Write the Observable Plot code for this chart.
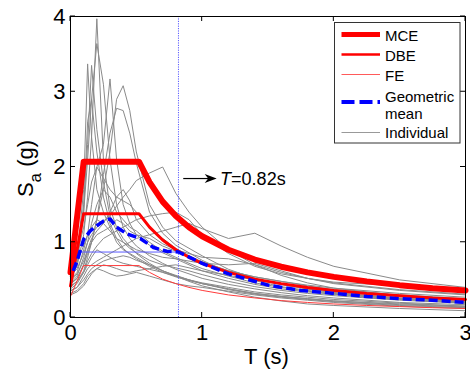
<!DOCTYPE html>
<html><head><meta charset="utf-8">
<script src="https://cdn.jsdelivr.net/npm/d3@7"></script>
<script src="https://cdn.jsdelivr.net/npm/@observablehq/plot@0.6"></script>
<style>
html,body{margin:0;padding:0;background:#fff;overflow:hidden;}
svg{display:block;}
</style></head><body><div id="chart"></div>
<script>
// Periods (s) shared by the individual record spectra
const periods = [0, 0.05, 0.1, 0.13, 0.16, 0.2, 0.25, 0.3, 0.35, 0.4, 0.45, 0.5, 0.6, 0.7, 0.8, 0.9, 1.0, 1.2, 1.4, 1.6, 1.8, 2.0, 2.5, 3.0];
// Individual record spectra Sa (g)
const records = [
  [0.55,0.68,1.10,1.60,2.40,3.97,2.10,1.45,1.20,1.05,0.95,0.85,0.72,0.62,0.55,0.50,0.45,0.38,0.32,0.28,0.25,0.22,0.17,0.14],
  [0.62,0.80,1.40,2.10,2.90,3.64,3.10,2.10,1.50,1.20,1.05,0.95,0.82,0.72,0.64,0.58,0.52,0.44,0.38,0.33,0.29,0.26,0.20,0.17],
  [0.58,0.78,1.70,3.37,2.40,1.70,1.40,1.20,1.00,0.90,0.85,0.80,0.70,0.62,0.56,0.50,0.46,0.40,0.34,0.30,0.27,0.24,0.19,0.15],
  [0.64,0.82,1.50,2.30,3.35,2.50,1.80,1.35,1.15,1.00,0.92,0.86,0.76,0.70,0.66,0.62,0.57,0.48,0.41,0.36,0.32,0.29,0.23,0.19],
  [0.50,0.60,0.90,1.10,1.50,2.00,2.30,3.17,2.10,1.50,1.25,1.10,0.96,0.86,0.78,0.70,0.62,0.52,0.44,0.38,0.34,0.31,0.25,0.21],
  [0.45,0.52,0.70,0.85,1.00,1.30,1.70,2.20,2.90,3.08,2.75,2.20,1.50,1.20,1.02,0.92,0.82,0.64,0.52,0.44,0.38,0.33,0.26,0.21],
  [0.42,0.48,0.62,0.80,1.00,1.30,1.90,2.45,2.78,2.75,2.45,2.05,1.40,1.12,0.96,0.86,0.76,0.60,0.49,0.41,0.36,0.32,0.25,0.20],
  [0.52,0.70,1.40,2.60,2.90,2.20,1.60,1.25,1.05,0.92,0.84,0.78,0.68,0.60,0.54,0.49,0.45,0.37,0.31,0.27,0.24,0.21,0.16,0.13],
  [0.45,0.55,0.80,1.00,1.10,1.20,1.28,1.35,1.48,1.60,1.70,1.82,1.92,2.00,1.65,1.40,1.20,0.90,0.70,0.56,0.46,0.39,0.29,0.23],
  [0.36,0.40,0.55,0.65,0.70,0.75,0.80,0.85,0.90,0.95,1.00,1.05,1.10,1.15,1.20,1.25,1.18,1.05,1.12,0.95,0.80,0.68,0.50,0.40],
  [0.40,0.48,0.60,0.75,0.85,0.95,1.05,1.10,1.15,1.20,1.25,1.30,1.35,1.38,1.40,1.30,1.10,0.85,0.68,0.58,0.52,0.47,0.42,0.38],
  [0.60,0.75,0.95,1.10,1.20,1.30,1.25,1.15,1.05,1.00,0.95,0.90,0.85,0.80,0.78,0.75,0.72,0.70,0.72,0.62,0.52,0.45,0.36,0.30],
  [0.38,0.45,0.60,0.70,0.80,0.90,0.85,0.80,0.75,0.72,0.70,0.68,0.64,0.60,0.55,0.50,0.45,0.38,0.32,0.28,0.25,0.22,0.18,0.15],
  [0.32,0.36,0.45,0.55,0.60,0.65,0.62,0.58,0.55,0.56,0.58,0.60,0.55,0.50,0.45,0.42,0.40,0.35,0.30,0.26,0.23,0.20,0.15,0.12],
  [0.48,0.58,0.75,0.90,1.00,1.10,1.15,1.20,1.30,1.25,1.15,1.10,1.05,0.95,0.88,0.80,0.74,0.62,0.54,0.48,0.43,0.39,0.32,0.27],
  [0.55,0.65,0.85,1.00,1.25,1.50,1.70,1.60,1.40,1.30,1.20,1.15,1.00,0.88,0.80,0.72,0.65,0.55,0.46,0.40,0.35,0.31,0.24,0.19],
  [0.30,0.34,0.42,0.50,0.58,0.65,0.70,0.68,0.65,0.62,0.60,0.62,0.65,0.68,0.70,0.66,0.62,0.56,0.50,0.44,0.38,0.33,0.25,0.20],
  [0.66,0.85,1.20,1.50,1.80,2.00,1.85,1.70,1.60,1.55,1.50,1.40,1.20,1.05,0.92,0.82,0.74,0.62,0.54,0.48,0.42,0.37,0.30,0.25],
  [0.44,0.52,0.70,0.90,1.05,1.15,1.25,1.40,1.60,1.70,1.55,1.30,1.10,0.98,0.90,0.85,0.80,0.78,0.70,0.60,0.52,0.46,0.37,0.31],
  [0.35,0.40,0.50,0.58,0.65,0.70,0.75,0.78,0.80,0.82,0.80,0.76,0.70,0.62,0.55,0.48,0.42,0.34,0.27,0.22,0.18,0.16,0.12,0.09]
];
// Design spectra
const designT = [0, 0.1, 0.52, 0.6, 0.7, 0.8, 0.9, 1.0, 1.2, 1.4, 1.6, 1.8, 2.0, 2.25, 2.5, 2.75, 3.0];
const mce = [0.60, 2.07, 2.07, 1.80, 1.54, 1.35, 1.20, 1.08, 0.90, 0.77, 0.675, 0.60, 0.54, 0.48, 0.43, 0.39, 0.36];
const dbe = [0.42, 1.38, 1.38, 1.20, 1.03, 0.90, 0.80, 0.72, 0.60, 0.51, 0.45, 0.40, 0.36, 0.32, 0.29, 0.26, 0.24];
const fe  = [0.28, 0.69, 0.69, 0.60, 0.51, 0.45, 0.40, 0.36, 0.30, 0.26, 0.225, 0.20, 0.18, 0.16, 0.145, 0.13, 0.12];
// Geometric mean
const gmT  = [0.02, 0.05, 0.1, 0.15, 0.2, 0.25, 0.3, 0.35, 0.43, 0.53, 0.63, 0.73, 0.82, 1.0, 1.2, 1.5, 1.75, 2.0, 2.25, 2.5, 2.75, 3.0];
const gmSa = [0.62, 0.75, 1.04, 1.15, 1.22, 1.28, 1.31, 1.20, 1.11, 1.05, 0.93, 0.88, 0.87, 0.72, 0.58, 0.43, 0.36, 0.32, 0.28, 0.25, 0.23, 0.20];
// Target period marker
const tTarget = 0.82;
const saTarget = 0.87;
const xTicks = [0, 1, 2, 3];
const yTicks = [0, 1, 2, 3, 4];
const annotation = {x1: 0.86, x2: 1.114, y: 1.84, tx: 1.14, ty: 1.75, italic: "T", rest: "=0.82s"};
const legendItems = [
  {label: ["MCE"], stroke: "#ff0000", width: 5, dash: null},
  {label: ["DBE"], stroke: "#ff0000", width: 2.5, dash: null},
  {label: ["FE"], stroke: "#ff5a5a", width: 1, dash: null},
  {label: ["Geometric", "mean"], stroke: "#0000ff", width: 4, dash: "13,5"},
  {label: ["Individual"], stroke: "#999999", width: 1, dash: null}
];

const indiv = records.flatMap((vals, i) => vals.map((v, j) => ({rec: i, T: periods[j], Sa: v})));
const mk = arr => designT.map((t, i) => ({T: t, Sa: arr[i]}));
const gm = gmT.map((t, i) => ({T: t, Sa: gmSa[i]}));
const FONT = "Liberation Sans, Arial, Helvetica, sans-serif";

const plot = Plot.plot({
  width: 470, height: 375,
  marginLeft: 70, marginRight: 5, marginTop: 16, marginBottom: 58,
  style: {fontFamily: FONT, fontSize: "22px", background: "white", overflow: "hidden", color: "black"},
  x: {domain: [0, 3]},
  y: {domain: [0, 4]},
  marks: [
    Plot.line(indiv, {x: "T", y: "Sa", z: "rec", stroke: "#8a8a8a", strokeWidth: 1}),
    Plot.ruleX([tTarget], {stroke: "#5a5aff", strokeWidth: 1, strokeDasharray: "1.2,1.2"}),
    Plot.ruleY([saTarget], {x1: 0, x2: tTarget, stroke: "#5a5aff", strokeWidth: 1}),
    Plot.line(mk(fe), {x: "T", y: "Sa", stroke: "#ff3b3b", strokeWidth: 1}),
    Plot.line(mk(dbe), {x: "T", y: "Sa", stroke: "#ff0000", strokeWidth: 3}),
    Plot.line(mk(mce), {x: "T", y: "Sa", stroke: "#ff0000", strokeWidth: 6}),
    Plot.line(gm, {x: "T", y: "Sa", stroke: "#0000ff", strokeWidth: 3.5, strokeDasharray: "9,4", strokeLinecap: "butt"}),
    Plot.axisX({ticks: xTicks, tickSize: 0, tickPadding: 7, label: null, tickFormat: d => String(d)}),
    Plot.axisY({ticks: yTicks, tickSize: 0, tickPadding: 5, label: null, tickFormat: d => String(d)}),
    Plot.frame({stroke: "black", strokeWidth: 1})
  ]
});
document.getElementById("chart").appendChild(plot);

const sx = plot.scale("x").apply, sy = plot.scale("y").apply;
const svg = d3.select(plot);
const [x0, x1] = [sx(0), sx(3)], [yb, yt] = [sy(0), sy(4)];
// inward ticks on all sides
const tk = svg.append("g").attr("stroke", "black").attr("stroke-width", 1);
xTicks.forEach(t => {
  tk.append("line").attr("x1", sx(t)).attr("x2", sx(t)).attr("y1", yb).attr("y2", yb - 5);
  tk.append("line").attr("x1", sx(t)).attr("x2", sx(t)).attr("y1", yt).attr("y2", yt + 5);
});
yTicks.forEach(v => {
  tk.append("line").attr("y1", sy(v)).attr("y2", sy(v)).attr("x1", x0).attr("x2", x0 + 5);
  tk.append("line").attr("y1", sy(v)).attr("y2", sy(v)).attr("x1", x1).attr("x2", x1 - 5);
});
// axis labels
svg.append("text").attr("x", (x0 + x1) / 2 - 1).attr("y", 364).attr("text-anchor", "middle")
  .attr("font-family", FONT).attr("font-size", 22).attr("fill", "black").text("T (s)");
const yl = svg.append("text").attr("transform", `translate(33,${(yb + yt) / 2 + 2}) rotate(-90)`)
  .attr("text-anchor", "middle").attr("font-family", FONT).attr("font-size", 22).attr("fill", "black");
yl.append("tspan").text("S");
yl.append("tspan").attr("font-size", 17).attr("dy", 8).text("a");
yl.append("tspan").attr("dy", -8).text(" (g)");
// annotation arrow
const ax1 = sx(annotation.x1), ax2 = sx(annotation.x2), ay = sy(annotation.y);
svg.append("line").attr("x1", ax1).attr("x2", ax2 - 8).attr("y1", ay).attr("y2", ay).attr("stroke", "black").attr("stroke-width", 1.2);
svg.append("path").attr("d", `M${ax2},${ay} L${ax2 - 12},${ay - 4.5} L${ax2 - 8.5},${ay} L${ax2 - 12},${ay + 4.5} Z`).attr("fill", "black");
const at = svg.append("text").attr("x", sx(annotation.tx)).attr("y", sy(annotation.ty)).attr("text-anchor", "start")
  .attr("font-family", FONT).attr("font-size", 18).attr("fill", "black");
at.append("tspan").attr("font-style", "italic").text(annotation.italic);
at.append("tspan").text(annotation.rest);
// legend
const lg = svg.append("g").attr("font-family", FONT).attr("font-size", 15).attr("fill", "black").attr("text-anchor", "start");
lg.append("rect").attr("x", 334.5).attr("y", 22.5).attr("width", 125.5).attr("height", 120.5)
  .attr("fill", "white").attr("stroke", "#333").attr("stroke-width", 1);
const rowsLine = [34.5, 54.5, 74.5, 102, 132.5];
const rowsText = [[40.5], [60.5], [80.5], [101.5, 118.5], [138]];
legendItems.forEach((it, i) => {
  const ln = lg.append("line").attr("x1", 341.5).attr("x2", 380).attr("y1", rowsLine[i]).attr("y2", rowsLine[i])
    .attr("stroke", it.stroke).attr("stroke-width", it.width);
  if (it.dash) ln.attr("stroke-dasharray", it.dash);
  it.label.forEach((s, k) => lg.append("text").attr("x", 385).attr("y", rowsText[i][k]).attr("text-anchor", "start").text(s));
});
</script></body></html>
